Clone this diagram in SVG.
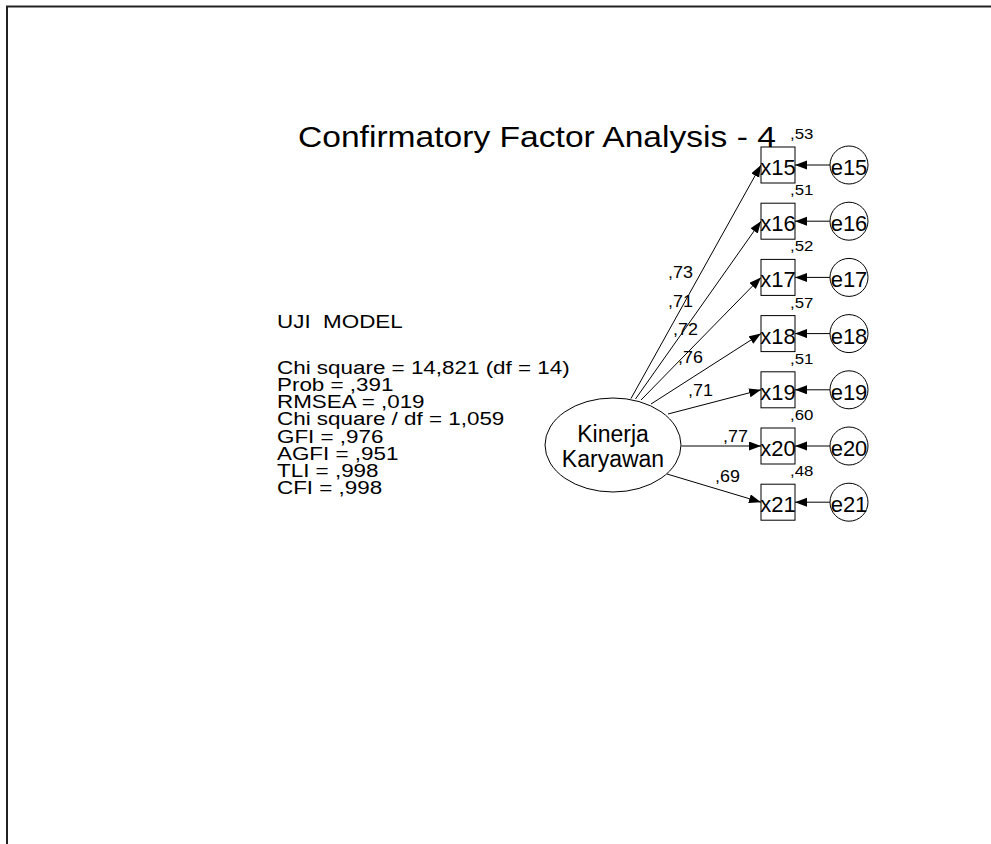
<svg xmlns="http://www.w3.org/2000/svg" width="991" height="844" viewBox="0 0 991 844">
<style>
text{font-family:"Liberation Sans",Arial,sans-serif;fill:#000}
.box{fill:#fff;stroke:#000;stroke-width:1}
.err{fill:#fff;stroke:#000;stroke-width:1}
.lat{fill:#fff;stroke:#000;stroke-width:1}
.lbl{font-size:22px;text-anchor:middle}
.lat-t{font-size:23px;text-anchor:middle}
.ld{font-size:16px}
.r2{font-size:15px}
.st{font-size:19px}
.ttl{font-size:30px}
.con line{stroke:#000;stroke-width:1;marker-end:url(#ah)}
</style>
<defs>
<marker id="ah" markerUnits="userSpaceOnUse" markerWidth="13" markerHeight="10" refX="12" refY="4.5" orient="auto">
<path d="M0,0 L12,4.5 L0,9 Z" fill="#000"/>
</marker>
</defs>
<rect width="991" height="844" fill="#fff"/>
<path d="M7,844 V6.5 H991" fill="none" stroke="#222" stroke-width="2"/>

<g id="title"><text class="ttl" transform="translate(298,147) scale(1.12,1)">Confirmatory Factor Analysis - 4</text></g>

<g id="fit-stats">
<text class="st" xml:space="preserve" transform="translate(277,328) scale(1.18,1)">UJI  MODEL</text>
<text class="st" transform="translate(277,374) scale(1.18,1)">Chi square = 14,821 (df = 14)</text>
<text class="st" transform="translate(277,391) scale(1.18,1)">Prob = ,391</text>
<text class="st" transform="translate(277,408) scale(1.18,1)">RMSEA = ,019</text>
<text class="st" transform="translate(277,425) scale(1.18,1)">Chi square / df = 1,059</text>
<text class="st" transform="translate(277,442.5) scale(1.18,1)">GFI = ,976</text>
<text class="st" transform="translate(277,460) scale(1.18,1)">AGFI = ,951</text>
<text class="st" transform="translate(277,477) scale(1.18,1)">TLI = ,998</text>
<text class="st" transform="translate(277,494) scale(1.18,1)">CFI = ,998</text>
</g>

<g class="con" id="connectors">
<line x1="631" y1="398.5" x2="761" y2="165"/>
<line x1="635.5" y1="399" x2="761" y2="221.2"/>
<line x1="641" y1="400" x2="761" y2="277.4"/>
<line x1="651" y1="404" x2="761" y2="333.6"/>
<line x1="668" y1="414" x2="761" y2="389.8"/>
<line x1="681.5" y1="446" x2="761" y2="446"/>
<line x1="667" y1="474" x2="761" y2="502.2"/>
<line x1="830" y1="165" x2="795" y2="165"/>
<line x1="830" y1="221.2" x2="795" y2="221.2"/>
<line x1="830" y1="277.4" x2="795" y2="277.4"/>
<line x1="830" y1="333.6" x2="795" y2="333.6"/>
<line x1="830" y1="389.8" x2="795" y2="389.8"/>
<line x1="830" y1="446" x2="795" y2="446"/>
<line x1="830" y1="502.2" x2="795" y2="502.2"/>
</g>

<g id="loadings">
<text class="ld" transform="translate(668,278) scale(1.12,1)">,73</text>
<text class="ld" transform="translate(668,307) scale(1.12,1)">,71</text>
<text class="ld" transform="translate(673,335) scale(1.12,1)">,72</text>
<text class="ld" transform="translate(678,363) scale(1.12,1)">,76</text>
<text class="ld" transform="translate(688,396) scale(1.12,1)">,71</text>
<text class="ld" transform="translate(723,442) scale(1.12,1)">,77</text>
<text class="ld" transform="translate(715,482) scale(1.12,1)">,69</text>
</g>

<g id="kinerja">
<ellipse class="lat" cx="613" cy="445" rx="68" ry="47"/>
<text class="lat-t" x="613" y="442">Kinerja</text>
<text class="lat-t" x="613" y="467">Karyawan</text>
</g>

<g id="x15"><rect class="box" x="761" y="147" width="34" height="36"/><text class="lbl" x="778" y="175">x15</text><text class="r2" transform="translate(790,139) scale(1.12,1)">,53</text></g>
<g id="x16"><rect class="box" x="761" y="203.2" width="34" height="36"/><text class="lbl" x="778" y="231.2">x16</text><text class="r2" transform="translate(790,195.2) scale(1.12,1)">,51</text></g>
<g id="x17"><rect class="box" x="761" y="259.4" width="34" height="36"/><text class="lbl" x="778" y="287.4">x17</text><text class="r2" transform="translate(790,251.4) scale(1.12,1)">,52</text></g>
<g id="x18"><rect class="box" x="761" y="315.6" width="34" height="36"/><text class="lbl" x="778" y="343.6">x18</text><text class="r2" transform="translate(790,307.6) scale(1.12,1)">,57</text></g>
<g id="x19"><rect class="box" x="761" y="371.8" width="34" height="36"/><text class="lbl" x="778" y="399.8">x19</text><text class="r2" transform="translate(790,363.8) scale(1.12,1)">,51</text></g>
<g id="x20"><rect class="box" x="761" y="428" width="34" height="36"/><text class="lbl" x="778" y="456">x20</text><text class="r2" transform="translate(790,420) scale(1.12,1)">,60</text></g>
<g id="x21"><rect class="box" x="761" y="484.2" width="34" height="36"/><text class="lbl" x="778" y="512.2">x21</text><text class="r2" transform="translate(790,476.2) scale(1.12,1)">,48</text></g>

<g id="e15"><circle class="err" cx="849" cy="165" r="19"/><text class="lbl" x="849" y="175">e15</text></g>
<g id="e16"><circle class="err" cx="849" cy="221.2" r="19"/><text class="lbl" x="849" y="231.2">e16</text></g>
<g id="e17"><circle class="err" cx="849" cy="277.4" r="19"/><text class="lbl" x="849" y="287.4">e17</text></g>
<g id="e18"><circle class="err" cx="849" cy="333.6" r="19"/><text class="lbl" x="849" y="343.6">e18</text></g>
<g id="e19"><circle class="err" cx="849" cy="389.8" r="19"/><text class="lbl" x="849" y="399.8">e19</text></g>
<g id="e20"><circle class="err" cx="849" cy="446" r="19"/><text class="lbl" x="849" y="456">e20</text></g>
<g id="e21"><circle class="err" cx="849" cy="502.2" r="19"/><text class="lbl" x="849" y="512.2">e21</text></g>
</svg>
